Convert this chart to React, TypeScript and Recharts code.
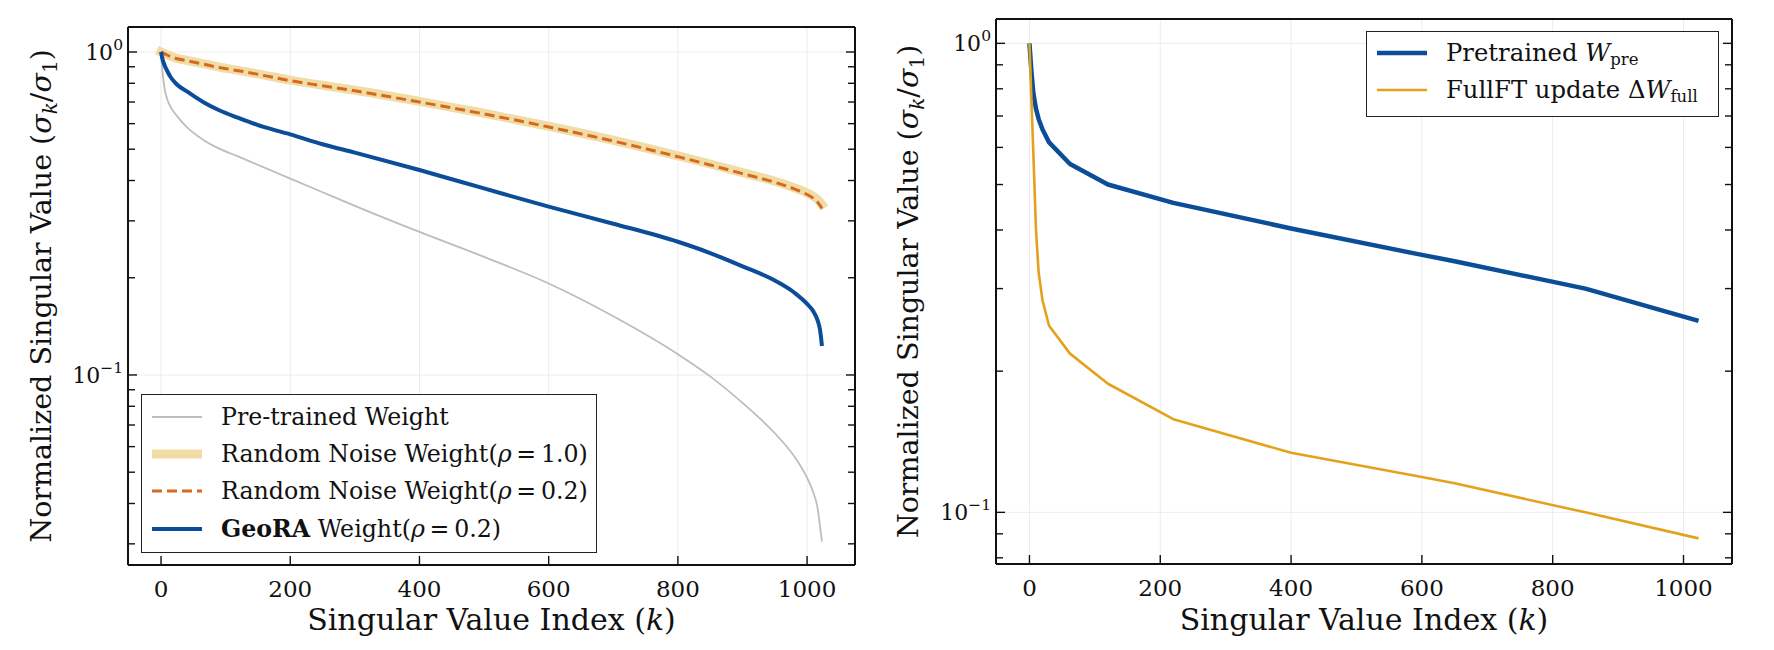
import { LineChart, Line, XAxis, YAxis, CartesianGrid, Legend, Label } from 'recharts'

const FONT = '"DejaVu Serif", serif'
const INK = '#111111'
const MAJOR_TICK = 9
const MINOR_TICK = 7

// left panel: normalized singular values vs index k
const LEFT_K = [0, 2, 5, 10, 15, 25, 40, 65, 90, 120, 160, 200, 250, 300, 400, 500, 600, 700, 800, 850, 900, 950, 980, 1000, 1010, 1016, 1020, 1023]
const PRETRAINED = [1.0, 0.88, 0.78, 0.71, 0.675, 0.632, 0.585, 0.535, 0.502, 0.474, 0.4385, 0.4055, 0.368, 0.334, 0.2773, 0.232, 0.192, 0.152, 0.116, 0.099, 0.082, 0.066, 0.056, 0.048, 0.043, 0.039, 0.034, 0.0305]
const NOISE_10 = [1.0, 0.996, 0.99, 0.979, 0.97, 0.956, 0.942, 0.92, 0.898, 0.877, 0.848, 0.818, 0.789, 0.761, 0.703, 0.646, 0.589, 0.533, 0.477, 0.45, 0.423, 0.398, 0.38, 0.366, 0.357, 0.35, 0.343, 0.337]
const NOISE_02 = [1.0, 0.995, 0.988, 0.977, 0.968, 0.953, 0.94, 0.918, 0.895, 0.875, 0.845, 0.815, 0.786, 0.758, 0.7, 0.643, 0.586, 0.53, 0.474, 0.447, 0.42, 0.395, 0.377, 0.362, 0.352, 0.343, 0.335, 0.328]
const GEORA = [1.0, 0.955, 0.915, 0.87, 0.835, 0.792, 0.755, 0.7, 0.66, 0.625, 0.585, 0.556, 0.518, 0.488, 0.431, 0.378, 0.332, 0.294, 0.2585, 0.2385, 0.217, 0.196, 0.18, 0.166, 0.157, 0.148, 0.138, 0.123]

// right panel
const RIGHT_K = [0, 3, 6, 10, 14, 20, 30, 62, 120, 220, 400, 600, 650, 850, 1023]
const W_PRE = [1.0, 0.87, 0.782, 0.725, 0.69, 0.655, 0.615, 0.553, 0.5, 0.457, 0.403, 0.354, 0.343, 0.3, 0.256]
const DW_FULL = [1.0, 0.76, 0.58, 0.4, 0.325, 0.283, 0.25, 0.218, 0.188, 0.158, 0.134, 0.119, 0.1153, 0.1, 0.088]

const X_TICKS = [0, 200, 400, 600, 800, 1000]
const X_DOMAIN = [-51.15, 1074.15]
const LEFT_Y_TICKS = [0.03, 0.04, 0.05, 0.06, 0.07, 0.08, 0.09, 0.1, 0.2, 0.3, 0.4, 0.5, 0.6, 0.7, 0.8, 0.9, 1]
const LEFT_Y_DOMAIN = [0.0258, 1.195]
const RIGHT_Y_TICKS = [0.08, 0.09, 0.1, 0.2, 0.3, 0.4, 0.5, 0.6, 0.7, 0.8, 0.9, 1]
const RIGHT_Y_DOMAIN = [0.0776, 1.127]
const Y_GRID = [0.1, 1]

const leftRows = LEFT_K.map((k, i) => ({ k, pre: PRETRAINED[i], n10: NOISE_10[i], n02: NOISE_02[i], geo: GEORA[i] }))
const rightRows = RIGHT_K.map((k, i) => ({ k, wpre: W_PRE[i], dw: DW_FULL[i] }))

function isDecade(v: number) {
  const e = Math.log10(v)
  return Math.abs(e - Math.round(e)) < 1e-9
}

function BottomTick({ x, y, payload }: any) {
  return (
    <g>
      <line x1={x} x2={x} y1={y} y2={y - MAJOR_TICK} stroke={INK} strokeWidth={1.4} />
      <text x={x} y={y + 32} textAnchor="middle" fontFamily={FONT} fontSize={23} fill={INK}>
        {payload.value}
      </text>
    </g>
  )
}

function TopTick({ x, y }: any) {
  return <line x1={x} x2={x} y1={y} y2={y + MAJOR_TICK} stroke={INK} strokeWidth={1.4} />
}

function LeftLogTick({ x, y, payload }: any) {
  const v = payload.value
  const major = isDecade(v)
  const exp = Math.round(Math.log10(v))
  return (
    <g>
      <line x1={x} x2={x + (major ? MAJOR_TICK : MINOR_TICK)} y1={y} y2={y} stroke={INK} strokeWidth={1.4} />
      {major && (
        <text x={x - 5} y={y + 8} textAnchor="end" fontFamily={FONT} fontSize={22} fill={INK}>
          10
          <tspan dy={-10} fontSize={15.5}>
            {exp < 0 ? '\u2212' + Math.abs(exp) : String(exp)}
          </tspan>
        </text>
      )}
    </g>
  )
}

function RightLogTick({ x, y, payload }: any) {
  const major = isDecade(payload.value)
  return <line x1={x} x2={x - (major ? MAJOR_TICK : MINOR_TICK)} y1={y} y2={y} stroke={INK} strokeWidth={1.4} />
}

function XTitle(cx: number, y: number) {
  return (
    <text x={cx} y={y} textAnchor="middle" fontFamily={FONT} fontSize={30} fill={INK}>
      {'Singular Value Index ('}
      <tspan fontStyle="italic">k</tspan>
      {')'}
    </text>
  )
}

function YTitle(bx: number, cy: number) {
  return (
    <text transform={`translate(${bx},${cy}) rotate(-90)`} textAnchor="middle" fontFamily={FONT} fontSize={28.5} fill={INK}>
      {'Normalized Singular Value ('}
      <tspan fontStyle="italic">σ</tspan>
      <tspan dy={6} fontSize={20} fontStyle="italic">k</tspan>
      <tspan dy={-6}>/</tspan>
      <tspan fontStyle="italic">σ</tspan>
      <tspan dy={6} fontSize={20}>1</tspan>
      <tspan dy={-6}>)</tspan>
    </text>
  )
}

function Sample({ color, width, dash }: { color: string; width: number; dash?: string }) {
  return (
    <svg width={54} height={14} style={{ flexShrink: 0 }}>
      <line x1={2} x2={52} y1={7} y2={7} stroke={color} strokeWidth={width} strokeDasharray={dash} />
    </svg>
  )
}

const rowStyle = { display: 'flex', alignItems: 'center', height: 37.3, paddingLeft: 8, gap: 17, whiteSpace: 'nowrap' as const }
const thin = '\u2009=\u2009'

function LeftLegend() {
  return (
    <div style={{ width: 456, height: 159, boxSizing: 'border-box', border: '1.3px solid #222', background: '#fff', paddingTop: 3, fontFamily: FONT, fontSize: 23.7, color: INK }}>
      <div style={rowStyle}>
        <Sample color="#bdbdbd" width={1.8} />
        <span>Pre-trained Weight</span>
      </div>
      <div style={rowStyle}>
        <Sample color="#f1dca6" width={9} />
        <span>Random Noise Weight(<i>ρ</i>{thin}1.0)</span>
      </div>
      <div style={rowStyle}>
        <Sample color="#d4691f" width={3} dash="10 5" />
        <span>Random Noise Weight(<i>ρ</i>{thin}0.2)</span>
      </div>
      <div style={rowStyle}>
        <Sample color="#0b4d98" width={4} />
        <span><b>GeoRA</b> Weight(<i>ρ</i>{thin}0.2)</span>
      </div>
    </div>
  )
}

function RightLegend() {
  return (
    <div style={{ width: 353, height: 86, boxSizing: 'border-box', border: '1.3px solid #222', background: '#fff', paddingTop: 3, fontFamily: FONT, fontSize: 24.3, color: INK }}>
      <div style={{ ...rowStyle, height: 36.7 }}>
        <Sample color="#0b4d98" width={4.5} />
        <span>Pretrained <i>W</i><sub style={{ fontSize: 16.5, verticalAlign: -4 }}>pre</sub></span>
      </div>
      <div style={{ ...rowStyle, height: 36.7 }}>
        <Sample color="#e3a21c" width={2.6} />
        <span>FullFT update Δ<i>W</i><sub style={{ fontSize: 16.5, verticalAlign: -4 }}>full</sub></span>
      </div>
    </div>
  )
}

function LeftPanel() {
  return (
    <LineChart width={880} height={650} data={leftRows} margin={{ top: 26, right: 24, bottom: 45, left: 68 }}>
      <CartesianGrid stroke="#ececec" strokeWidth={1} horizontalValues={Y_GRID} verticalValues={X_TICKS} />
      <XAxis dataKey="k" type="number" domain={X_DOMAIN} ticks={X_TICKS} allowDataOverflow interval={0} height={40}
        tickSize={0} tickMargin={0} tickLine={false} tick={<BottomTick />} axisLine={{ stroke: INK, strokeWidth: 2 }}>
        <Label content={() => XTitle(491.5, 630)} />
      </XAxis>
      <XAxis xAxisId="top" orientation="top" type="number" domain={X_DOMAIN} ticks={X_TICKS} allowDataOverflow interval={0} height={1}
        tickSize={0} tickMargin={0} tickLine={false} tick={<TopTick />} axisLine={{ stroke: INK, strokeWidth: 2 }} />
      <YAxis type="number" scale="log" domain={LEFT_Y_DOMAIN} ticks={LEFT_Y_TICKS} allowDataOverflow interval={0} width={60}
        tickSize={0} tickMargin={0} tickLine={false} tick={<LeftLogTick />} axisLine={{ stroke: INK, strokeWidth: 2 }}>
        <Label content={() => YTitle(51, 296)} />
      </YAxis>
      <YAxis yAxisId="right" orientation="right" type="number" scale="log" domain={LEFT_Y_DOMAIN} ticks={LEFT_Y_TICKS} allowDataOverflow interval={0} width={1}
        tickSize={0} tickMargin={0} tickLine={false} tick={<RightLogTick />} axisLine={{ stroke: INK, strokeWidth: 2 }} />
      <Line dataKey="pre" type="monotone" stroke="#bdbdbd" strokeWidth={1.8} dot={false} isAnimationActive={false} />
      <Line dataKey="n10" type="monotone" stroke="#f1dca6" strokeWidth={9} strokeLinecap="square" dot={false} isAnimationActive={false} />
      <Line dataKey="n02" type="monotone" stroke="#d4691f" strokeWidth={3} strokeDasharray="10 5" dot={false} isAnimationActive={false} />
      <Line dataKey="geo" type="monotone" stroke="#0b4d98" strokeWidth={4} strokeLinejoin="round" dot={false} isAnimationActive={false} />
      <Legend layout="vertical" align="center" verticalAlign="middle" content={() => <LeftLegend />}
        wrapperStyle={{ left: 141, top: 394, width: 456 }} />
    </LineChart>
  )
}

function RightPanel() {
  return (
    <LineChart width={894} height={650} data={rightRows} margin={{ top: 18, right: 41, bottom: 46, left: 56 }}>
      <CartesianGrid stroke="#ececec" strokeWidth={1} horizontalValues={Y_GRID} verticalValues={X_TICKS} />
      <XAxis dataKey="k" type="number" domain={X_DOMAIN} ticks={X_TICKS} allowDataOverflow interval={0} height={40}
        tickSize={0} tickMargin={0} tickLine={false} tick={<BottomTick />} axisLine={{ stroke: INK, strokeWidth: 2 }}>
        <Label content={() => XTitle(484, 630)} />
      </XAxis>
      <XAxis xAxisId="top" orientation="top" type="number" domain={X_DOMAIN} ticks={X_TICKS} allowDataOverflow interval={0} height={1}
        tickSize={0} tickMargin={0} tickLine={false} tick={<TopTick />} axisLine={{ stroke: INK, strokeWidth: 2 }} />
      <YAxis type="number" scale="log" domain={RIGHT_Y_DOMAIN} ticks={RIGHT_Y_TICKS} allowDataOverflow interval={0} width={60}
        tickSize={0} tickMargin={0} tickLine={false} tick={<LeftLogTick />} axisLine={{ stroke: INK, strokeWidth: 2 }}>
        <Label content={() => YTitle(38, 291.5)} />
      </YAxis>
      <YAxis yAxisId="right" orientation="right" type="number" scale="log" domain={RIGHT_Y_DOMAIN} ticks={RIGHT_Y_TICKS} allowDataOverflow interval={0} width={1}
        tickSize={0} tickMargin={0} tickLine={false} tick={<RightLogTick />} axisLine={{ stroke: INK, strokeWidth: 2 }} />
      <Line dataKey="wpre" type="linear" stroke="#0b4d98" strokeWidth={4.5} strokeLinejoin="round" dot={false} isAnimationActive={false} />
      <Line dataKey="dw" type="linear" stroke="#e3a21c" strokeWidth={2.6} strokeLinejoin="round" dot={false} isAnimationActive={false} />
      <Legend layout="vertical" align="center" verticalAlign="middle" content={() => <RightLegend />}
        wrapperStyle={{ left: 486, top: 31, width: 353 }} />
    </LineChart>
  )
}

export default function App() {
  return (
    <div style={{ position: 'absolute', left: 0, top: 0, width: 1774, height: 650, background: '#fff', overflow: 'hidden' }}>
      <div style={{ position: 'absolute', left: 0, top: 0 }}>
        <LeftPanel />
      </div>
      <div style={{ position: 'absolute', left: 880, top: 0 }}>
        <RightPanel />
      </div>
    </div>
  )
}
